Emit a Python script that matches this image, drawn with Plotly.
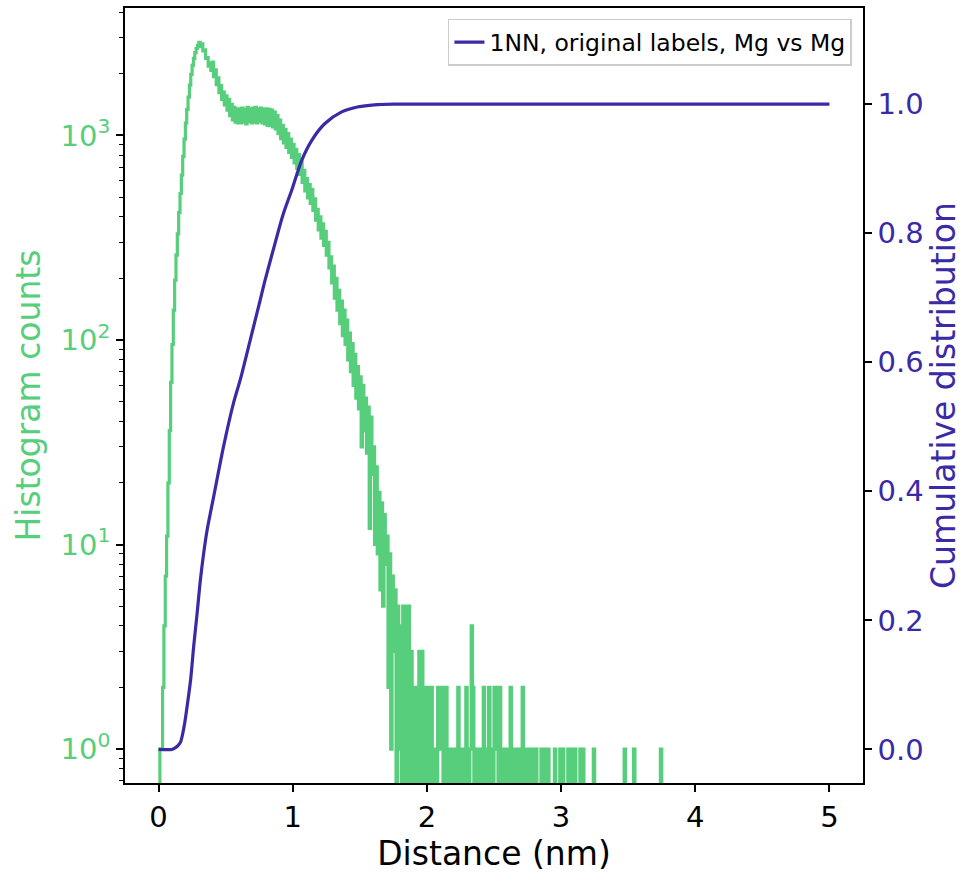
import plotly.graph_objects as go

# ---------------- data ----------------
BIN_WIDTH = 0.01  # nm, histogram bin width
# histogram counts per bin, bins starting at 0.00 nm (10 bins per row = 0.1 nm)
hist_counts = [
    0, 1, 1, 2, 4, 7, 11, 20, 36, 62,                                  # 0.0
    95, 140, 196, 260, 330, 420, 520, 640, 790, 960,                   # 0.1
    1150, 1340, 1540, 1760, 1990, 2200, 2380, 2540, 2660, 2760,        # 0.2
    2850, 2720, 2800, 2590, 2620, 2380, 2400, 2180, 2260, 2080,        # 0.3
    2280, 1940, 2090, 1770, 1910, 1620, 1750, 1500, 1630, 1410,        # 0.4
    1560, 1330, 1500, 1250, 1420, 1190, 1370, 1160, 1350, 1150,        # 0.5
    1350, 1150, 1360, 1160, 1340, 1140, 1370, 1170, 1350, 1150,        # 0.6
    1360, 1160, 1370, 1150, 1350, 1170, 1360, 1150, 1340, 1140,        # 0.7
    1350, 1120, 1340, 1115, 1330, 1100, 1300, 1075, 1250, 1020,        # 0.8
    1190, 965, 1120, 920, 1070, 875, 1020, 825, 960, 780,              # 0.9
    905, 735, 855, 690, 805, 645, 740, 590, 675, 535,                  # 1.0
    615, 495, 575, 465, 545, 430, 490, 385, 435, 345,                  # 1.1
    400, 315, 370, 290, 340, 260, 300, 225, 255, 190,                  # 1.2
    230, 160, 200, 140, 175, 120, 155, 105, 140, 95,                   # 1.3
    125, 80, 108, 70, 96, 60, 85, 52, 74, 46,                          # 1.4
    66, 30, 60, 36, 52, 28, 47, 12, 42, 22,                            # 1.5
    30, 10, 24, 9, 18, 6, 16, 5, 14, 8,                                # 1.6
    11, 2, 9, 1, 7, 3, 6, 0, 5, 1,                                     # 1.7
    4, 0, 5, 0, 5, 0, 5, 0, 3, 0,                                      # 1.8
    2, 0, 2, 0, 3, 0, 3, 0, 2, 0,                                      # 1.9
    1, 2, 0, 2, 1, 0, 1, 0, 2, 2,                                      # 2.0
    1, 2, 0, 2, 2, 0, 1, 0, 1, 0,                                      # 2.1
    1, 0, 1, 2, 0, 1, 0, 1, 0, 2,                                      # 2.2
    1, 0, 1, 4, 2, 0, 1, 0, 1, 0,                                      # 2.3
    1, 0, 2, 1, 0, 1, 2, 0, 1, 0,                                      # 2.4
    2, 1, 2, 0, 2, 1, 0, 1, 0, 1,                                      # 2.5
    0, 1, 2, 0, 1, 0, 1, 0, 1, 0,                                      # 2.6
    1, 2, 0, 1, 0, 1, 0, 1, 0, 1,                                      # 2.7
    0, 1, 0, 0, 0, 1, 0, 1, 0, 0,                                      # 2.8
    1, 0, 0, 0, 0, 1, 0, 0, 0, 1,                                      # 2.9
    0, 1, 0, 0, 0, 1, 0, 1, 1, 0,                                      # 3.0
    1, 0, 0, 0, 1, 0, 1, 0, 0, 0,                                      # 3.1
    0, 0, 0, 0, 1, 0, 0, 0, 0, 0,                                      # 3.2
    0, 0, 0, 0, 0, 0, 0, 0, 0, 0,                                      # 3.3
    0, 0, 0, 0, 0, 0, 0, 1, 0, 0,                                      # 3.4
    0, 0, 0, 0, 1, 0, 0, 0, 0, 0,                                      # 3.5
    0, 0, 0, 0, 0, 0, 0, 0, 0, 0,                                      # 3.6
    0, 0, 0, 0, 1, 0,                                                  # 3.7
]

cdf_x = [0.0, 0.10, 0.12, 0.14, 0.163, 0.19, 0.213, 0.24, 0.262, 0.287,
         0.312, 0.337, 0.362, 0.411, 0.485, 0.559, 0.609, 0.684, 0.75, 0.795,
         0.869, 0.93, 0.993, 1.067, 1.142, 1.24, 1.365, 1.49, 1.61, 1.75, 5.0]
cdf_y = [0.0, 0.0, 0.002, 0.005, 0.011, 0.035, 0.067, 0.11, 0.16, 0.21,
         0.263, 0.305, 0.34, 0.392, 0.47, 0.537, 0.573, 0.635, 0.69, 0.728,
         0.785, 0.83, 0.867, 0.913, 0.944, 0.970, 0.988, 0.996, 0.999, 1.0, 1.0]

x_ticks = [0, 1, 2, 3, 4, 5]
y_log_ticks = [1, 10, 100, 1000]
y_log_ticktext = ["10<sup>0</sup>", "10<sup>1</sup>", "10<sup>2</sup>", "10<sup>3</sup>"]
y_minor_ticks = [0.7, 0.8, 0.9] + [m * 10 ** k for k in range(0, 3) for m in range(2, 10)] + [2000, 3000, 4000]
y2_ticks = [0.0, 0.2, 0.4, 0.6, 0.8, 1.0]
y2_ticktext = ["0.0", "0.2", "0.4", "0.6", "0.8", "1.0"]
legend_label = "1NN, original labels, Mg vs Mg"

# ---------------- style ----------------
GREEN = "#57CE7B"
PURPLE = "#3B2AA6"
FONT = "DejaVu Sans"
FLOOR = 0.3  # zero counts drawn below the log axis floor

# step-histogram path
hx = [0.0]
hy = [FLOOR]
for i, c in enumerate(hist_counts):
    hx.append(round(i * BIN_WIDTH, 4))
    hy.append(c if c > 0 else FLOOR)
end = round(len(hist_counts) * BIN_WIDTH, 4)
hx += [end, end]
hy += [hist_counts[-1] if hist_counts[-1] > 0 else FLOOR, FLOOR]

fig = go.Figure()
fig.add_trace(go.Scatter(
    x=hx, y=hy, mode="lines",
    line=dict(color=GREEN, width=3.2, shape="hv"),
    showlegend=False, yaxis="y", hoverinfo="skip"))
fig.add_trace(go.Scatter(
    x=cdf_x, y=cdf_y, mode="lines",
    line=dict(color=PURPLE, width=3.2, shape="spline", smoothing=0.8),
    name=legend_label, yaxis="y2"))

axis_common = dict(showgrid=False, zeroline=False, showline=True,
                   linecolor="black", linewidth=1.6, ticks="outside",
                   ticklen=7, tickwidth=1.6, tickcolor="black", automargin=False)

fig.update_layout(
    width=969, height=873,
    margin=dict(l=125, r=106, t=8, b=90),
    paper_bgcolor="white", plot_bgcolor="white",
    font=dict(family=FONT, color="black"),
    xaxis=dict(**axis_common, range=[-0.25, 5.25], tickvals=x_ticks,
               mirror=True,
               tickfont=dict(size=29, color="black"),
               title=dict(text="Distance (nm)", font=dict(size=33, color="black"), standoff=8)),
    yaxis=dict(**axis_common, type="log", range=[-0.166, 3.623],
               tickvals=y_log_ticks, ticktext=y_log_ticktext, mirror=True,
               tickfont=dict(size=29, color=GREEN),
               minor=dict(tickmode="array", tickvals=y_minor_ticks, ticks="outside",
                          ticklen=4, tickwidth=1.2, tickcolor="black"),
               title=dict(text="Histogram counts", font=dict(size=33, color=GREEN), standoff=10)),
    yaxis2=dict(**axis_common, overlaying="y", side="right",
                range=[-0.052, 1.149], tickvals=y2_ticks, ticktext=y2_ticktext,
                tickfont=dict(size=29, color=PURPLE),
                title=dict(text="Cumulative distribution", font=dict(size=33, color=PURPLE), standoff=8)),
    legend=dict(x=0.985, y=0.986, xanchor="right", yanchor="top",
                bgcolor="white", bordercolor="#cccccc", borderwidth=1.5,
                font=dict(size=23.5, color="black")),
)

fig.write_html("out.html", config={"displayModeBar": False},
               post_script="document.body.style.margin='0px';")
